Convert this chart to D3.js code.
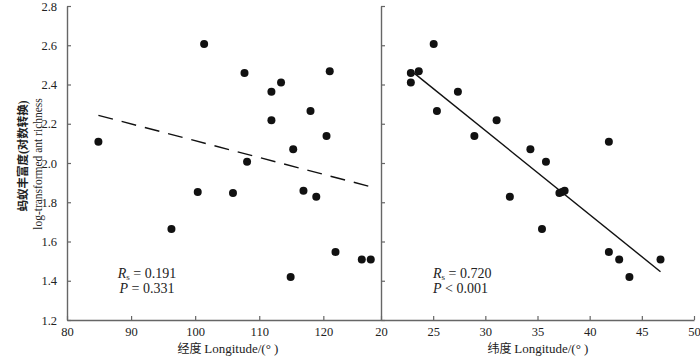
<!DOCTYPE html>
<html><head><meta charset="utf-8">
<script src="https://cdn.jsdelivr.net/npm/d3@7"></script>
<style>
html,body{margin:0;padding:0;background:#fff;}
text{font-family:"Liberation Serif","Times New Roman","Noto Sans CJK SC",serif;fill:#222;}
</style></head>
<body><svg id="c" width="700" height="360"></svg>
<script>
// log-transformed ant richness (shared y values)
const richness  = [2.108, 2.607, 2.458, 2.410, 2.363, 2.468, 2.265, 2.218, 2.138, 2.070, 2.006, 1.852, 1.847, 1.859, 1.828, 1.664, 1.546, 1.508, 1.508, 1.419];
const longitude = [84.9, 101.4, 107.7, 113.4, 111.9, 121.0, 118.0, 111.9, 120.5, 115.3, 108.1, 100.4, 105.9, 116.9, 118.9, 96.3, 121.9, 126.0, 127.4, 114.9];
const latitude  = [41.84, 25.05, 22.86, 22.86, 27.37, 23.62, 25.36, 31.08, 28.95, 34.32, 35.81, 37.35, 37.1, 37.6, 32.35, 35.43, 41.84, 42.83, 46.79, 43.81];
const yTicks = [1.2, 1.4, 1.6, 1.8, 2.0, 2.2, 2.4, 2.6, 2.8];
const lonTicks = [80, 90, 100, 110, 120];
const latTicks = [20, 25, 30, 35, 40, 45, 50];
const fitLonX = [84.9, 127.4], fitLonY = [2.243, 1.879];
const fitLatX = [23.17, 46.79], fitLatY = [2.458, 1.446];
const statLon = ["0.191", "= 0.331"];
const statLat = ["0.720", "< 0.001"];

const svg = d3.select("#c");
const plotTop = 6, plotBottom = 320;
const y = d3.scaleLinear().domain([1.2, 2.8]).range([plotBottom, plotTop]);
const xL = d3.scaleLinear().domain([80, 129]).range([67, 381]);
const xR = d3.scaleLinear().domain([20, 50]).range([381, 694]);
const axisCol = "#666";

function panel(x, xs, ticks, fitX, fitY, dashed, stat, statX, anchor, title, titleX, leftLabels) {
  const gx = svg.append("g").attr("transform", `translate(0,${plotBottom})`)
    .call(d3.axisBottom(x).tickValues(ticks).tickSizeInner(-4).tickSizeOuter(0).tickPadding(7).tickFormat(d3.format("d")));
  gx.select(".domain").attr("stroke", axisCol).attr("stroke-width", 1.4);
  gx.selectAll(".tick line").attr("stroke", axisCol).attr("stroke-width", 1.2);
  gx.selectAll(".tick text").attr("font-size", 12.5).attr("fill", "#222").attr("font-family", "Liberation Serif");
  const gy = svg.append("g").attr("transform", `translate(${x.range()[0]},0)`)
    .call(d3.axisLeft(y).tickValues(yTicks).tickSizeInner(-4).tickSizeOuter(0).tickPadding(10).tickFormat(d3.format(".1f")));
  gy.select(".domain").attr("stroke", axisCol).attr("stroke-width", 1.4);
  gy.selectAll(".tick line").attr("stroke", axisCol).attr("stroke-width", 1.2);
  gy.selectAll(".tick text").attr("font-size", 12.5).attr("fill", "#222").attr("font-family", "Liberation Serif");
  if (!leftLabels) gy.selectAll(".tick text").remove();
  svg.append("line")
    .attr("x1", x(fitX[0])).attr("y1", y(fitY[0]))
    .attr("x2", x(fitX[1])).attr("y2", y(fitY[1]))
    .attr("stroke", "#111").attr("stroke-width", 1.4)
    .attr("stroke-dasharray", dashed ? "15,9" : null);
  svg.append("g").selectAll("circle").data(xs.map((v, i) => [v, richness[i]])).join("circle")
    .attr("cx", d => x(d[0])).attr("cy", d => y(d[1])).attr("r", 4).attr("fill", "#111");
  const t1 = svg.append("text").attr("x", statX).attr("y", 278).attr("font-size", 14).attr("text-anchor", anchor);
  t1.append("tspan").attr("font-style", "italic").text("R");
  t1.append("tspan").attr("font-size", 9).attr("dy", 2).text("s");
  t1.append("tspan").attr("dy", -2).text(" = " + stat[0]);
  const t2 = svg.append("text").attr("x", statX).attr("y", 293).attr("font-size", 14).attr("text-anchor", anchor);
  t2.append("tspan").attr("font-style", "italic").text("P");
  t2.append("tspan").text(" " + stat[1]);
  const tt = svg.append("text").attr("x", titleX).attr("y", 353).attr("text-anchor", "middle").attr("font-size", 13);
  tt.append("tspan").attr("font-family", "Noto Sans CJK SC").attr("font-size", 12).text(title + " ");
  tt.append("tspan").text("Longitude/(° )");
}

panel(xL, longitude, lonTicks, fitLonX, fitLonY, true, statLon, 147, "middle", "经度", 228, true);
panel(xR, latitude, latTicks, fitLatX, fitLatY, false, statLat, 433, "start", "纬度", 538, false);

svg.append("text").attr("transform", "translate(27,156) rotate(-90)").attr("text-anchor", "middle")
  .attr("font-family", "Noto Sans CJK SC").attr("font-size", 11.5).attr("font-weight", "bold").text("蚂蚁丰富度(对数转换)");
svg.append("text").attr("transform", "translate(42,164) rotate(-90)").attr("text-anchor", "middle")
  .attr("font-size", 11.5).text("log-transformed ant richness");
</script></body></html>
